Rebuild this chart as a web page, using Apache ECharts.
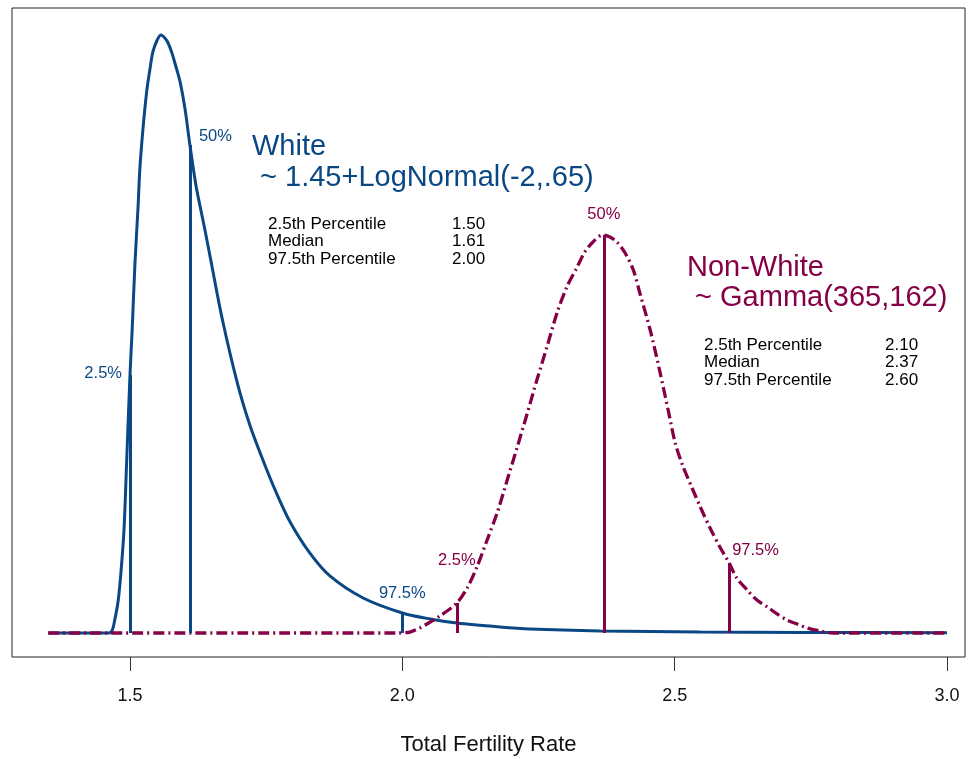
<!DOCTYPE html>
<html><head><meta charset="utf-8">
<script src="https://cdn.jsdelivr.net/npm/echarts@6/dist/echarts.min.js"></script>
<style>html,body{margin:0;padding:0;background:#fff}#c{width:970px;height:759px}</style>
</head><body><div id="c"></div>
<script>
// ---- data ----
const whiteX = [1.35,1.445,1.461,1.467,1.472,1.478,1.483,1.489,1.494,1.500,1.504,1.509,1.515,1.518,1.524,1.531,1.537,1.542,1.550,1.557,1.564,1.570,1.577,1.584,1.592,1.601,1.610,1.621,1.629,1.638,1.649,1.669,1.698,1.720,1.744,1.768,1.794,1.830,1.867,1.928,2.000,2.051,2.100,2.179,2.234,2.363,2.547,2.730,3.000];
const whiteY = [0,0,0,0.019,0.121,0.290,0.542,0.963,1.617,2.411,2.832,3.439,4.000,4.327,4.720,5.075,5.280,5.430,5.542,5.589,5.561,5.514,5.421,5.299,5.150,4.900,4.561,4.187,3.980,3.757,3.467,2.944,2.318,1.944,1.617,1.318,1.037,0.748,0.533,0.327,0.187,0.131,0.093,0.056,0.037,0.019,0.009,0.005,0.003];
const nonWhiteX = [1.35,1.70,1.99,2.014,2.032,2.045,2.069,2.100,2.119,2.137,2.155,2.174,2.192,2.211,2.229,2.247,2.266,2.284,2.302,2.321,2.335,2.350,2.368,2.381,2.394,2.409,2.424,2.436,2.455,2.473,2.488,2.501,2.515,2.532,2.547,2.565,2.583,2.600,2.614,2.633,2.651,2.670,2.688,2.706,2.725,2.743,2.767,2.791,3.00];
const nonWhiteY = [0,0,0,0.009,0.047,0.084,0.159,0.280,0.421,0.617,0.860,1.121,1.421,1.738,2.047,2.364,2.682,2.991,3.234,3.421,3.561,3.654,3.720,3.701,3.654,3.551,3.393,3.178,2.832,2.439,2.084,1.776,1.561,1.355,1.178,0.981,0.804,0.654,0.514,0.402,0.308,0.243,0.178,0.121,0.084,0.047,0.019,0,0];
// percentile markers: value and curve height at that value
const whitePctX = [1.50, 1.61, 2.00];
const whitePctY = [2.411, 4.561, 0.187];
const whitePctLabels = ['2.5%', '50%', '97.5%'];
const nonWhitePctX = [2.10, 2.37, 2.60];
const nonWhitePctY = [0.280, 3.720, 0.654];
const nonWhitePctLabels = ['2.5%', '50%', '97.5%'];
const statNames = ['2.5th Percentile', 'Median', '97.5th Percentile'];
const whiteStats = ['1.50', '1.61', '2.00'];
const nonWhiteStats = ['2.10', '2.37', '2.60'];
const xTicks = [1.5, 2.0, 2.5, 3.0];
const xTickLabels = ['1.5', '2.0', '2.5', '3.0'];
const xTitle = 'Total Fertility Rate';
const whiteTitle = ['White', ' ~ 1.45+LogNormal(-2,.65)'];
const nonWhiteTitle = ['Non-White', ' ~ Gamma(365,162)'];

// ---- chart ----
const BLUE = '#0a4785';
const RED = '#850046';
const FONT = '"Liberation Sans", Arial, sans-serif';
const zip = (a, b) => a.map((v, i) => [v, b[i]]);
const vlines = (xs, ys) => xs.map((x, i) => [{coord: [x, 0]}, {coord: [x, ys[i]]}]);

const chart = echarts.init(document.getElementById('c'), null, {renderer: 'canvas'});
chart.setOption({
  animation: false,
  backgroundColor: '#fff',
  grid: {left: 12, right: 5, top: 8, bottom: 102, show: true, borderColor: '#222', borderWidth: 1,
    backgroundColor: 'transparent', containLabel: false, outerBoundsMode: 'none'},
  xAxis: {
    type: 'value', min: 1.2834, max: 3.033,
    axisLine: {show: false, onZero: false},
    splitLine: {show: false},
    axisTick: {show: true, inside: false, length: 14, lineStyle: {color: '#333', width: 1}, customValues: xTicks},
    axisLabel: {show: true, customValues: xTicks, formatter: v => xTickLabels[xTicks.indexOf(v)] || '',
      fontFamily: FONT, fontSize: 18, color: '#111', margin: 30},
    name: xTitle, nameLocation: 'middle', nameGap: 77,
    nameTextStyle: {fontFamily: FONT, fontSize: 22, color: '#111'}
  },
  yAxis: {type: 'value', min: -0.2243, max: 5.841, show: false, splitLine: {show: false}},
  series: [
    {
      type: 'line', name: 'White', data: zip(whiteX, whiteY), showSymbol: false, smooth: 0.3,
      lineStyle: {color: BLUE, width: 3}, z: 2,
      markLine: {silent: true, symbol: ['none', 'none'], label: {show: false},
        lineStyle: {color: BLUE, width: 3, type: 'solid'}, data: vlines(whitePctX, whitePctY)}
    },
    {
      type: 'line', name: 'Non-White', data: zip(nonWhiteX, nonWhiteY), showSymbol: false, smooth: 0.3,
      lineStyle: {color: RED, width: 3.3, type: [11, 4, 2, 4], cap: 'butt'}, z: 3,
      markLine: {silent: true, symbol: ['none', 'none'], label: {show: false},
        lineStyle: {color: RED, width: 3, type: 'solid'}, data: vlines(nonWhitePctX, nonWhitePctY)}
    }
  ]
});

// ---- annotations ----
const px = (x, y) => chart.convertToPixel({gridIndex: 0}, [x, y]);
const g = [];
function txt(text, x, y, color, size, align) {
  g.push({type: 'text', x: x, y: y, z: 100, silent: true,
    style: {text: text, fill: color, font: size + 'px ' + FONT, textAlign: align || 'left', textVerticalAlign: 'middle'}});
}
// percentile labels near marker tops (pixel offsets)
const wOff = [[-8, -2, 'right'], [9, -9, 'left'], [0, -20, 'center']];
whitePctX.forEach((x, i) => { const p = px(x, whitePctY[i]); txt(whitePctLabels[i], p[0] + wOff[i][0], p[1] + wOff[i][1], BLUE, 16.5, wOff[i][2]); });
const nOff = [[0, -43, 'center'], [0, -20, 'center'], [3, -13, 'left']];
nonWhitePctX.forEach((x, i) => { const p = px(x, nonWhitePctY[i]); txt(nonWhitePctLabels[i], p[0] + nOff[i][0], p[1] + nOff[i][1], RED, 16.5, nOff[i][2]); });
// titles
txt(whiteTitle[0], 252, 147, BLUE, 29);
txt(whiteTitle[1], 252, 178, BLUE, 29);
txt(nonWhiteTitle[0], 687, 268, RED, 29);
txt(nonWhiteTitle[1], 687, 298, RED, 29);
// stats tables
statNames.forEach((s, i) => {
  txt(s, 268, 224 + i * 17.5, '#000', 17);
  txt(whiteStats[i], 452, 224 + i * 17.5, '#000', 17);
  txt(s, 704, 345 + i * 17.5, '#000', 17);
  txt(nonWhiteStats[i], 885, 345 + i * 17.5, '#000', 17);
});
chart.setOption({graphic: g});
</script></body></html>
